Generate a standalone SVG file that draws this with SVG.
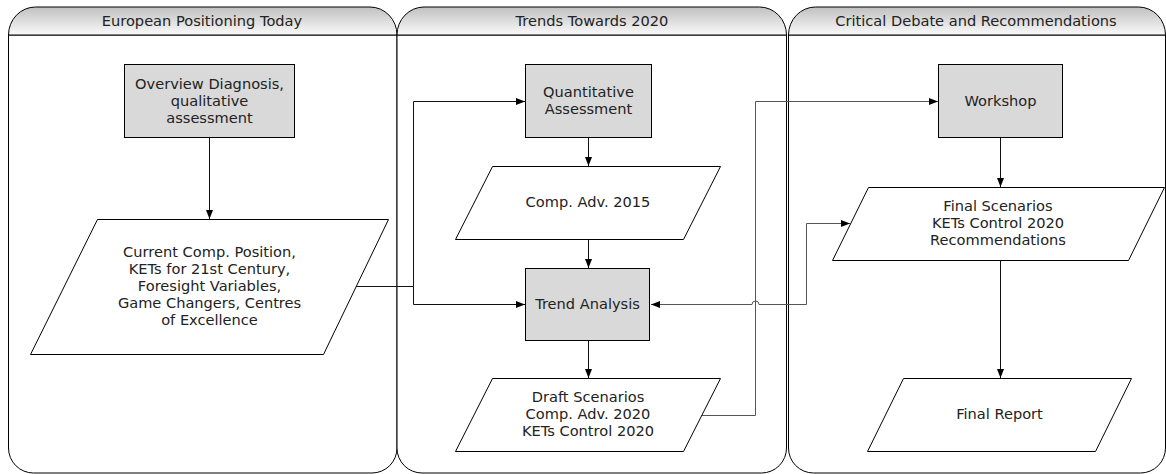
<svg xmlns="http://www.w3.org/2000/svg" width="1166" height="474" viewBox="0 0 1166 474">
  <defs>
    <linearGradient id="hdr" x1="0" y1="0" x2="0" y2="1">
      <stop offset="0" stop-color="#c0c0c0"/>
      <stop offset="1" stop-color="#fafafa"/>
    </linearGradient>
    <marker id="arrow" markerUnits="userSpaceOnUse" markerWidth="10" markerHeight="8" refX="9" refY="3.5" orient="auto-start-reverse">
      <path d="M0,0 L9,3.5 L0,7 z" fill="#000"/>
    </marker>
  </defs>
  <style>
    .lane { fill: #fff; stroke: #000; stroke-width: 1; }
    .lanehdr { fill: url(#hdr); stroke: #000; stroke-width: 1; }
    .title { font-family: "DejaVu Sans", Verdana, sans-serif; font-size: 14.6px; fill: #222; text-anchor: middle; }
    .proc { fill: #d9d9d9; stroke: #000; stroke-width: 1; }
    .data { fill: #fff; stroke: #000; stroke-width: 1; }
    .label { font-family: "DejaVu Sans", Verdana, sans-serif; font-size: 14.6px; fill: #222; text-anchor: middle; }
    .conn { fill: none; stroke: #111; stroke-width: 1; }
    .conn.long { stroke: #555; }
  </style>

  <!-- swimlanes -->
  <g id="lane-europe">
    <path class="lane" d="M8.5,35 V448 A25,25 0 0 0 33.5,473 H372 A25,25 0 0 0 397,448 V35 Z"/>
    <path class="lanehdr" d="M8.5,35 A27,28 0 0 1 35.5,7 H370 A27,28 0 0 1 397,35 Z"/>
    <text class="title" x="202" y="26">European Positioning Today</text>
  </g>
  <g id="lane-trends">
    <path class="lane" d="M397,35 V448 A25,25 0 0 0 422,473 H761.5 A25,25 0 0 0 786.5,448 V35 Z"/>
    <path class="lanehdr" d="M397,35 A27,28 0 0 1 424,7 H759.5 A27,28 0 0 1 786.5,35 Z"/>
    <text class="title" x="592" y="26">Trends Towards 2020</text>
  </g>
  <g id="lane-debate">
    <path class="lane" d="M788.5,35 V448 A25,25 0 0 0 813.5,473 H1140.5 A25,25 0 0 0 1165.5,448 V35 Z"/>
    <path class="lanehdr" d="M788.5,35 A27,28 0 0 1 815.5,7 H1138.5 A27,28 0 0 1 1165.5,35 Z"/>
    <text class="title" x="976" y="26">Critical Debate and Recommendations</text>
  </g>

  <!-- connectors -->
  <g id="connectors">
    <path class="conn" d="M209.5,138 V219" marker-end="url(#arrow)"/>
    <path class="conn" d="M356,286.5 H413.5 V101.5 H525" marker-end="url(#arrow)"/>
    <path class="conn" d="M413.5,286.5 V304.5 H525" marker-end="url(#arrow)"/>
    <path class="conn" d="M588.5,138 V166" marker-end="url(#arrow)"/>
    <path class="conn" d="M588.5,239 V268" marker-end="url(#arrow)"/>
    <path class="conn" d="M588.5,341 V378" marker-end="url(#arrow)"/>
    <path class="conn long" d="M701,415.5 H755.5 V101.5 H938" marker-end="url(#arrow)"/>
    <path class="conn long" d="M651,304.5 H752 A3.5,3.5 0 0 1 759,304.5 H806.5 V223.5 H850" marker-start="url(#arrow)" marker-end="url(#arrow)"/>
    <path class="conn" d="M1000.5,138 V187" marker-end="url(#arrow)"/>
    <path class="conn" d="M1000.5,260 V378" marker-end="url(#arrow)"/>
  </g>

  <!-- nodes -->
  <g id="overview-diagnosis">
    <rect class="proc" x="124.5" y="64.5" width="170" height="73"/>
    <text class="label" x="209.5" y="89">Overview Diagnosis,</text>
    <text class="label" x="209.5" y="106">qualitative</text>
    <text class="label" x="209.5" y="123">assessment</text>
  </g>
  <g id="current-position">
    <path class="data" d="M97.5,219.5 H388.5 L323.5,354.5 H30.5 Z"/>
    <text class="label" x="209.5" y="257">Current Comp. Position,</text>
    <text class="label" x="209.5" y="274">KETs for 21st Century,</text>
    <text class="label" x="209.5" y="291">Foresight Variables,</text>
    <text class="label" x="209.5" y="308">Game Changers, Centres</text>
    <text class="label" x="209.5" y="325">of Excellence</text>
  </g>
  <g id="quantitative-assessment">
    <rect class="proc" x="525.5" y="64.5" width="126" height="73"/>
    <text class="label" x="588.5" y="97">Quantitative</text>
    <text class="label" x="588.5" y="114">Assessment</text>
  </g>
  <g id="comp-adv-2015">
    <path class="data" d="M492.5,166.5 H720.5 L683.5,239.5 H455.5 Z"/>
    <text class="label" x="588" y="207">Comp. Adv. 2015</text>
  </g>
  <g id="trend-analysis">
    <rect class="proc" x="525.5" y="268.5" width="124" height="72"/>
    <text class="label" x="587.5" y="309">Trend Analysis</text>
  </g>
  <g id="draft-scenarios">
    <path class="data" d="M492.5,378.5 H720.5 L683.5,451.5 H455.5 Z"/>
    <text class="label" x="588" y="402">Draft Scenarios</text>
    <text class="label" x="588" y="419">Comp. Adv. 2020</text>
    <text class="label" x="588" y="436">KETs Control 2020</text>
  </g>
  <g id="workshop">
    <rect class="proc" x="938.5" y="64.5" width="124" height="73"/>
    <text class="label" x="1000.5" y="106">Workshop</text>
  </g>
  <g id="final-scenarios">
    <path class="data" d="M868.5,187.5 H1164.5 L1128.5,260.5 H832.5 Z"/>
    <text class="label" x="998" y="211">Final Scenarios</text>
    <text class="label" x="998" y="228">KETs Control 2020</text>
    <text class="label" x="998" y="245">Recommendations</text>
  </g>
  <g id="final-report">
    <path class="data" d="M903.5,378.5 H1131.5 L1095.5,451.5 H867.5 Z"/>
    <text class="label" x="999.5" y="419">Final Report</text>
  </g>
</svg>
